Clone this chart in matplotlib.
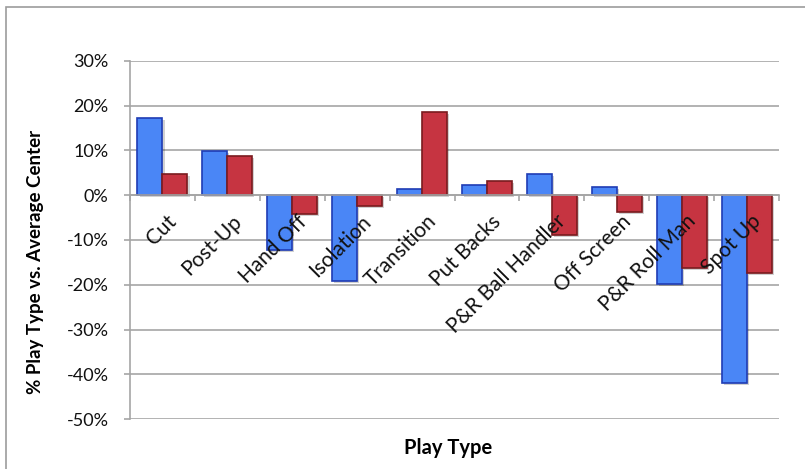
import matplotlib
matplotlib.use("Agg")
import numpy as np
import matplotlib.pyplot as plt
import matplotlib.patheffects as pe
from matplotlib.patches import Rectangle
from matplotlib.transforms import ScaledTranslation
from matplotlib.ticker import FuncFormatter

# Play type deltas vs. average center (percent)
categories = ["Cut", "Post-Up", "Hand Off", "Isolation", "Transition",
              "Put Backs", "P&R Ball Handler", "Off Screen", "P&R Roll Man", "Spot Up"]
blue_vals = [17.2, 9.8, -12.3, -19.2, 1.3, 2.2, 4.7, 1.8, -19.9, -42.0]
red_vals = [4.7, 8.7, -4.2, -2.3, 18.6, 3.1, -8.9, -3.8, -16.3, -17.4]
y_ticks = [-50, -40, -30, -20, -10, 0, 10, 20, 30]

BLUE, BLUE_EDGE = "#4A86F6", "#1F3CB4"
RED, RED_EDGE = "#C63441", "#7A1B1F"
GRID = "#A5A5A5"
FONT = "Lato"

fig = plt.figure(figsize=(8.05, 4.69), dpi=100)
W, H = 805, 469

# outer chart frame (cut off at right and bottom)
fig.patches.append(Rectangle((6 / W, -0.1), 1.2, 1.1 - 7 / H,
                             transform=fig.transFigure, fill=False,
                             edgecolor="#9C9C9C", linewidth=1.2))

ax = fig.add_axes([130 / W, 1 - 419 / H, (779 - 130) / W, (419 - 61) / H])

x = np.arange(len(categories))
bw = 0.385
shadow = [pe.SimplePatchShadow(offset=(1.5, -1.5), shadow_rgbFace="#000000", alpha=0.18), pe.Normal()]
ax.bar(x - bw / 2, blue_vals, bw, color=BLUE, edgecolor=BLUE_EDGE, linewidth=1.2,
       path_effects=shadow, zorder=3)
ax.bar(x + bw / 2, red_vals, bw, color=RED, edgecolor=RED_EDGE, linewidth=1.2,
       path_effects=shadow, zorder=3)

ax.set_xlim(-0.5, len(categories) - 0.5)
ax.set_ylim(-50, 30)
ax.set_yticks(y_ticks)
ax.yaxis.set_major_formatter(FuncFormatter(lambda v, p: f"{int(v)}%"))
ax.grid(axis="y", color=GRID, linewidth=1.2)
ax.set_axisbelow(True)

for s in ["top", "right"]:
    ax.spines[s].set_visible(False)
ax.spines["left"].set_color(GRID)
ax.spines["left"].set_linewidth(1.2)
ax.spines["bottom"].set_position(("data", 0))
ax.spines["bottom"].set_color(GRID)
ax.spines["bottom"].set_linewidth(1.2)
ax.spines["bottom"].set_zorder(4)

ax.tick_params(axis="y", length=4.5, width=1.2, color=GRID, pad=11,
               labelsize=13, labelcolor="#111111")
for t in ax.get_yticklabels():
    t.set_fontfamily(FONT)

# tick marks between categories, labels placed manually
ax.set_xticks(np.arange(len(categories) + 1) - 0.5)
ax.set_xticklabels([])
ax.tick_params(axis="x", length=4.5, width=1.2, color=GRID, direction="out")

lbl_tr = ax.transData + ScaledTranslation(4 / 100, -16 / 100, fig.dpi_scale_trans)
for i, c in enumerate(categories):
    ax.text(i, 0, c, rotation=45, ha="right", va="top", rotation_mode="anchor",
            transform=lbl_tr, fontsize=15, fontfamily=FONT, color="#111111", zorder=5)

fig.text(36 / W, 1 - 262 / H, "% Play Type vs. Average Center", rotation=90,
         ha="center", va="center", fontsize=13.5, fontweight="bold", fontfamily=FONT)
fig.text(448 / W, 1 - 448 / H, "Play Type", ha="center", va="center",
         fontsize=14.5, fontweight="bold", fontfamily=FONT)

fig.savefig("out.png", dpi=100)
